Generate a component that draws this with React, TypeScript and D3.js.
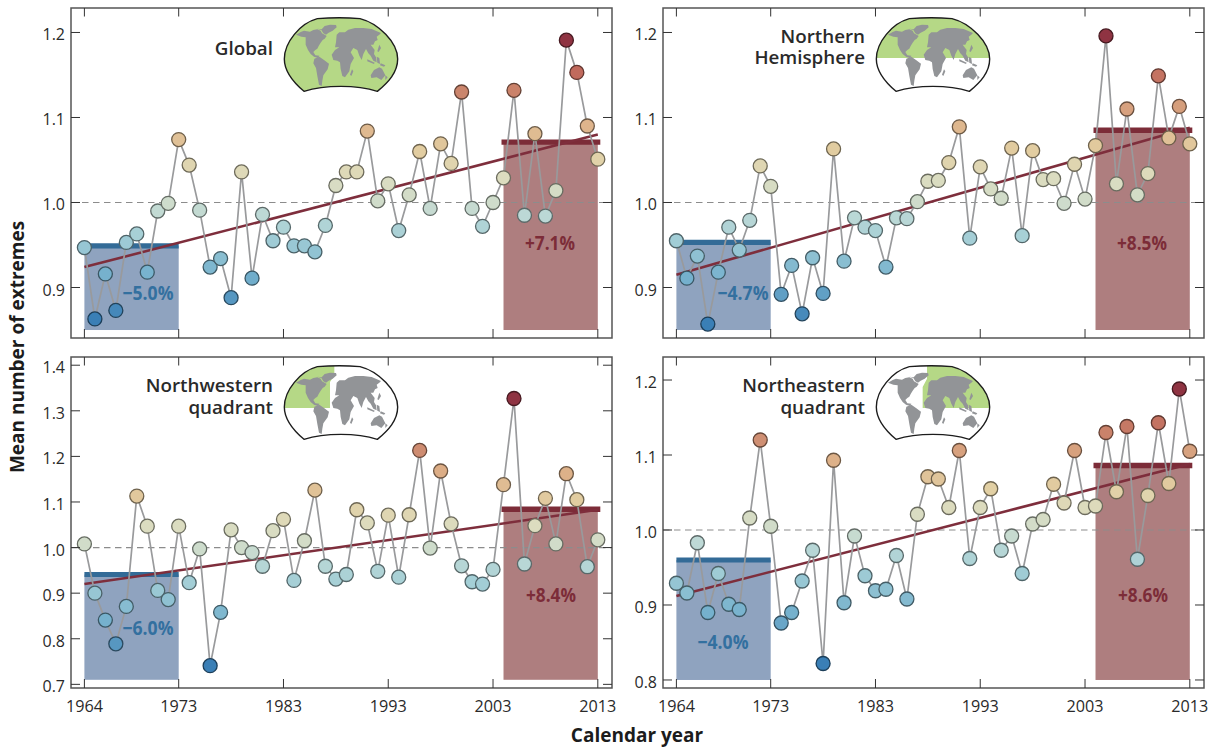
import React from "react";
import * as d3 from "d3";

const firstYear = 1964;
const yearTicks = [1964, 1973, 1983, 1993, 2003, 2013];

const globalValues = [0.947,0.863,0.916,0.873,0.953,0.963,0.918,0.990,0.999,1.074,1.044,0.991,0.924,0.934,0.888,1.036,0.911,0.986,0.955,0.971,0.949,0.949,0.942,0.973,1.020,1.036,1.036,1.084,1.002,1.022,0.967,1.009,1.060,0.993,1.069,1.046,1.130,0.993,0.972,1.000,1.029,1.132,0.985,1.081,0.984,1.014,1.191,1.153,1.090,1.051];
const northernValues = [0.955,0.911,0.937,0.857,0.918,0.971,0.944,0.979,1.043,1.019,0.892,0.926,0.869,0.935,0.893,1.063,0.931,0.982,0.971,0.967,0.924,0.982,0.981,1.001,1.025,1.026,1.047,1.089,0.958,1.042,1.016,1.005,1.064,0.961,1.061,1.027,1.028,0.999,1.045,1.004,1.067,1.196,1.022,1.110,1.009,1.034,1.149,1.076,1.113,1.069];
const northwestValues = [1.008,0.900,0.841,0.789,0.871,1.113,1.047,0.906,0.886,1.047,0.923,0.997,0.741,0.858,1.039,1.000,0.989,0.959,1.037,1.062,0.928,1.015,1.126,0.959,0.931,0.941,1.083,1.054,0.948,1.071,0.935,1.072,1.213,0.999,1.168,1.052,0.960,0.925,0.920,0.952,1.138,1.327,0.964,1.048,1.108,1.008,1.162,1.105,0.958,1.017];
const northeastValues = [0.929,0.916,0.983,0.890,0.942,0.901,0.894,1.016,1.120,1.005,0.876,0.890,0.932,0.973,0.822,1.093,0.903,0.992,0.939,0.919,0.921,0.966,0.908,1.021,1.071,1.068,1.030,1.106,0.962,1.030,1.055,0.973,0.992,0.942,1.008,1.014,1.061,1.036,1.106,1.030,1.032,1.130,1.051,1.138,0.961,1.046,1.143,1.062,1.188,1.105];

const globalTrend = [0.924, 1.080];
const northernTrend = [0.915, 1.088];
const northwestTrend = [0.920, 1.083];
const northeastTrend = [0.912, 1.088];

const earlyMeans = [0.949, 0.953, 0.941, 0.960];
const lateMeans = [1.071, 1.085, 1.084, 1.086];
const earlyLabels = ["−5.0%", "−4.7%", "−6.0%", "−4.0%"];
const lateLabels = ["+7.1%", "+8.5%", "+8.4%", "+8.6%"];

const topTicks = [0.9, 1.0, 1.1, 1.2];
const nwTicks = [0.7, 0.8, 0.9, 1.0, 1.1, 1.2, 1.3, 1.4];
const neTicks = [0.8, 0.9, 1.0, 1.1, 1.2];

const colorStops = [-1, -0.6, -0.3, -0.1, 0, 0.15, 0.3, 0.5, 0.7, 0.85, 1];
const colorValues = ["#3a7fb6","#78b3ce","#a3ced6","#bdd9d6","#cfdccb","#dcdcbf","#e2cfa3","#ddb088","#c98069","#bd5f57","#8f3342"];

const FONT = "'Open Sans', 'Noto Sans', sans-serif";
const FRAME = "#555";
const TEXT = "#2a2a2a";

const panels = [
  { name: ["Global"], values: globalValues, trend: globalTrend, ticks: topTicks, domain: [0.8406, 1.2288], box: [71, 8, 612, 338], base: 0.85, idx: 0, earlyLabelPos: [148, 300], lateLabelPos: [550, 250], mapAt: [280, 14], green: "all", labelY: [55] },
  { name: ["Northern", "Hemisphere"], values: northernValues, trend: northernTrend, ticks: topTicks, domain: [0.8406, 1.2288], box: [663, 8, 1204, 338], base: 0.85, idx: 1, earlyLabelPos: [743, 300], lateLabelPos: [1142, 250], mapAt: [872, 14], green: "north", labelY: [43, 64] },
  { name: ["Northwestern", "quadrant"], values: northwestValues, trend: northwestTrend, ticks: nwTicks, domain: [0.692, 1.418], box: [71, 357, 612, 688], base: 0.71, idx: 2, earlyLabelPos: [148, 635], lateLabelPos: [551, 602], mapAt: [280, 362], green: "nw", labelY: [392, 414] },
  { name: ["Northeastern", "quadrant"], values: northeastValues, trend: northeastTrend, ticks: neTicks, domain: [0.7893, 1.2307], box: [663, 357, 1204, 688], base: 0.8, idx: 3, earlyLabelPos: [723, 649], lateLabelPos: [1143, 602], mapAt: [872, 362], green: "ne", labelY: [392, 414] },
];

const mapOutline = "M72,232 C40,205 13,175 13,135 C13,85 60,28 112,14 C150,11 205,11 240,14 C295,28 353,85 353,135 C353,175 325,205 292,232 C230,212 135,212 72,232 Z";
const landShapes = [
  "M48,62 L62,54 L72,50 L90,53 L100,48 L112,46 L122,50 L126,58 L134,62 L140,66 L134,74 L128,78 L122,86 L116,96 L112,104 L106,108 L100,114 L106,124 L118,125 L114,132 L102,128 L92,120 L84,108 L77,92 L77,70 L64,68 Z",
  "M112,44 L125,46 L134,36 L150,32 L168,33 L170,40 L158,50 L146,56 L138,62 L130,58 L124,48 Z",
  "M103,134 L118,128 L132,138 L147,149 L143,166 L130,184 L127,200 L125,216 L117,212 L112,186 L108,162 L100,148 Z",
  "M170,62 L178,55 L195,55 L205,47 L225,42 L250,42 L275,45 L303,57 L298,62 L290,68 L293,78 L285,82 L280,92 L272,92 L284,108 L282,120 L288,130 L290,145 L280,140 L272,125 L265,118 L258,105 L250,120 L245,138 L238,125 L232,108 L220,102 L212,115 L222,132 L212,150 L208,172 L195,190 L187,186 L182,165 L180,145 L172,140 L160,138 L155,122 L165,108 L178,100 L165,100 L168,85 Z",
  "M272,184 L282,168 L298,160 L306,164 L316,184 L304,198 L290,190 L274,192 Z",
  "M262,136 L284,146 L282,150 L262,142 Z",
  "M290,128 L298,132 L300,150 L292,146 Z",
  "M302,148 L316,154 L312,158 L300,154 Z",
  "M298,92 L303,102 L296,114 L292,112 Z",
  "M316,184 L323,190 L316,198 Z",
  "M216,166 L220,172 L214,186 L210,182 Z",
];
const greenRegions = {
  all: "M0,0 H380 V250 H0 Z",
  north: "M0,0 H380 V132 H0 Z",
  nw: "M0,0 H163 V40 L150,60 V138 H0 Z",
  ne: "M165,0 H380 V138 H152 V75 L165,50 Z",
};

function WorldMap({ at, green, id }: { at: number[]; green: string; id: string }) {
  return (
    <g transform={`translate(${at[0]},${at[1]}) scale(${1 / 3})`}>
      <clipPath id={id}><path d={mapOutline} /></clipPath>
      <path d={mapOutline} fill="#fff" />
      <g clipPath={`url(#${id})`}>
        <path d={greenRegions[green]} fill="#b5d886" />
      </g>
      {landShapes.map((d, i) => <path key={i} d={d} fill="#929497" />)}
      <path d={mapOutline} fill="none" stroke="#1c1c1c" strokeWidth={4.2} />
    </g>
  );
}

function Panel({ p, showX }: { p: any; showX: boolean }) {
  const [x0, y0, x1, y1] = p.box;
  const x = d3.scaleLinear().domain([1964, 2013]).range([x0 + 13.4, x1 - 14.2]);
  const y = d3.scaleLinear().domain(p.domain).range([y1, y0]);
  const lo = d3.min(p.values as number[])!;
  const hi = d3.max(p.values as number[])!;
  const norm = (v: number) => (v >= 1 ? (v - 1) / (hi - 1) : (v - 1) / (1 - lo));
  const color = d3.scaleLinear<string>().domain(colorStops).range(colorValues).interpolate(d3.interpolateRgb);
  const pts = (p.values as number[]).map((v, i) => [firstYear + i, v]);
  const line = d3.line<number[]>().x((d) => x(d[0])).y((d) => y(d[1]));
  const trendPts = [[1964, p.trend[0]], [2013, p.trend[1]]];
  const earlyMean = earlyMeans[p.idx];
  const lateMean = lateMeans[p.idx];
  return (
    <g>
      <rect x={x(1964)} y={y(earlyMean)} width={x(1973) - x(1964)} height={y(p.base) - y(earlyMean)} fill="#8fa3bf" />
      <rect x={x(2004)} y={y(lateMean)} width={x(2013) - x(2004)} height={y(p.base) - y(lateMean)} fill="#ae7e7f" />
      <line x1={x0} x2={x1} y1={y(1)} y2={y(1)} stroke="#8c8c8c" strokeWidth={1.2} strokeDasharray="6.5 4.5" />
      <line x1={x(1964)} x2={x(1973)} y1={y(earlyMean)} y2={y(earlyMean)} stroke="#336b97" strokeWidth={5.2} />
      <line x1={x(2004) - 2} x2={x(2013) + 2.5} y1={y(lateMean)} y2={y(lateMean)} stroke="#7c2c38" strokeWidth={5.4} />
      <text x={p.earlyLabelPos[0]} y={p.earlyLabelPos[1]} textAnchor="middle" fontFamily={FONT} fontWeight={700} fontSize={19.5} fill="#33709f" textLength={51} lengthAdjust="spacingAndGlyphs">{earlyLabels[p.idx]}</text>
      <text x={p.lateLabelPos[0]} y={p.lateLabelPos[1]} textAnchor="middle" fontFamily={FONT} fontWeight={700} fontSize={19.5} fill="#7c2c38" textLength={50} lengthAdjust="spacingAndGlyphs">{lateLabels[p.idx]}</text>
      <path d={line(trendPts)!} fill="none" stroke="#7e2e3c" strokeWidth={2.6} />
      <path d={line(pts)!} fill="none" stroke="#999a9c" strokeWidth={1.7} />
      {pts.map((d) => (
        <circle key={d[0]} cx={x(d[0])} cy={y(d[1])} r={7} fill={color(norm(d[1]))} stroke={d3.color(color(norm(d[1])))!.darker(2).formatHex()} strokeWidth={1.3} />
      ))}
      <rect x={x0} y={y0} width={x1 - x0} height={y1 - y0} fill="none" stroke={FRAME} strokeWidth={1.5} />
      {yearTicks.map((t) => (
        <g key={t}>
          <line x1={x(t)} x2={x(t)} y1={y0} y2={y0 + 8.5} stroke="#333" strokeWidth={1} />
          <line x1={x(t)} x2={x(t)} y1={y1} y2={y1 - 9} stroke="#333" strokeWidth={1} />
          {showX && <text x={x(t)} y={712} textAnchor="middle" fontFamily={FONT} fontSize={16} fill={TEXT} textLength={37} lengthAdjust="spacingAndGlyphs">{t}</text>}
        </g>
      ))}
      {(p.ticks as number[]).map((t) => (
        <g key={t}>
          <line x1={x0} x2={x0 + 9} y1={y(t)} y2={y(t)} stroke="#333" strokeWidth={1} />
          <line x1={x1} x2={x1 - 9} y1={y(t)} y2={y(t)} stroke="#333" strokeWidth={1} />
          <text x={x0 - 6} y={y(t) + 8} textAnchor="end" fontFamily={FONT} fontSize={16} fill={TEXT}>{t.toFixed(1)}</text>
        </g>
      ))}
      <text textAnchor="end" fontFamily={FONT} fontWeight={600} fontSize={18.8} fill={TEXT}>
        {p.name.map((s: string, i: number) => (
          <tspan key={s} x={x0 + 202} y={p.labelY[i]}>{s}</tspan>
        ))}
      </text>
      <WorldMap at={p.mapAt} green={p.green} id={`map-clip-${p.idx}`} />
    </g>
  );
}

export default function App() {
  return (
    <svg width={1217} height={748} viewBox="0 0 1217 748" style={{ position: "absolute", left: 0, top: 0, display: "block", background: "#fff" }}>
      {panels.map((p, i) => <Panel key={i} p={p} showX={i >= 2} />)}
      <text transform="translate(24,347) rotate(-90)" textAnchor="middle" fontFamily={FONT} fontWeight={700} fontSize={19} fill="#1c1c1c">Mean number of extremes</text>
      <text x={637} y={742} textAnchor="middle" fontFamily={FONT} fontWeight={700} fontSize={19} fill="#1c1c1c">Calendar year</text>
    </svg>
  );
}
